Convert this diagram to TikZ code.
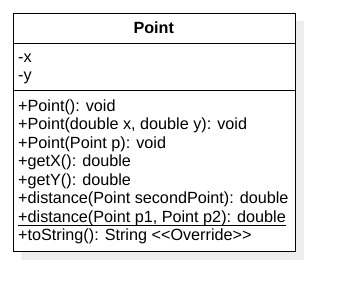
\documentclass[tikz,border=0pt]{standalone}
\usepackage{fontspec}
\setmainfont{Liberation Sans}
\begin{document}
\begin{tikzpicture}[x=1pt,y=-1pt,
  classbox/.style={draw=black, fill=white, line width=1.2pt, inner sep=0pt,
    minimum width=282.5pt, minimum height=238.5pt, anchor=north west},
  shadowbox/.style={fill=black!7, draw=none, inner sep=0pt,
    minimum width=282.5pt, minimum height=238.5pt, anchor=north west},
  divider/.style={draw=black, line width=1pt},
  member/.style={anchor=base west, inner sep=0pt, font=\fontsize{16.2}{18.5}\selectfont},
  title/.style={anchor=base, inner sep=0pt, font=\fontsize{16.2}{18.5}\selectfont\bfseries}]
\useasboundingbox (0,0) rectangle (345,301);
% drop shadow and class frame
\node[shadowbox] (shadow) at (21,21) {};
\node[classbox] (cls) at (12.5,12.5) {};
% compartment dividers
\draw[divider] (cls.west |- 0,43) -- (cls.east |- 0,43);
\draw[divider] (cls.west |- 0,90.5) -- (cls.east |- 0,90.5);
% class name
\node[title] (name) at (153.75,33.5) {Point};
% attributes
\node[member] (ax) at (18,62) {-x};
\node[member] (ay) at (18,80.5) {-y};
% operations
\node[member] (m1) at (18,111) {+Point(): void};
\node[member] (m2) at (18,129.5) {+Point(double x, double y): void};
\node[member] (m3) at (18,148) {+Point(Point p): void};
\node[member] (m4) at (18,166.5) {+getX(): double};
\node[member] (m5) at (18,185) {+getY(): double};
\node[member] (m6) at (18,203.5) {+distance(Point secondPoint): double};
\node[member] (m7) at (18,222) {+distance(Point p1, Point p2): double};
\node[member] (m8) at (18,240.5) {+toString(): String <{}<Override>{}>};
% static operation underline
\draw[line width=1pt] ([yshift=-3pt]m7.base west) -- ([yshift=-3pt]m7.base east);
\end{tikzpicture}
\end{document}
